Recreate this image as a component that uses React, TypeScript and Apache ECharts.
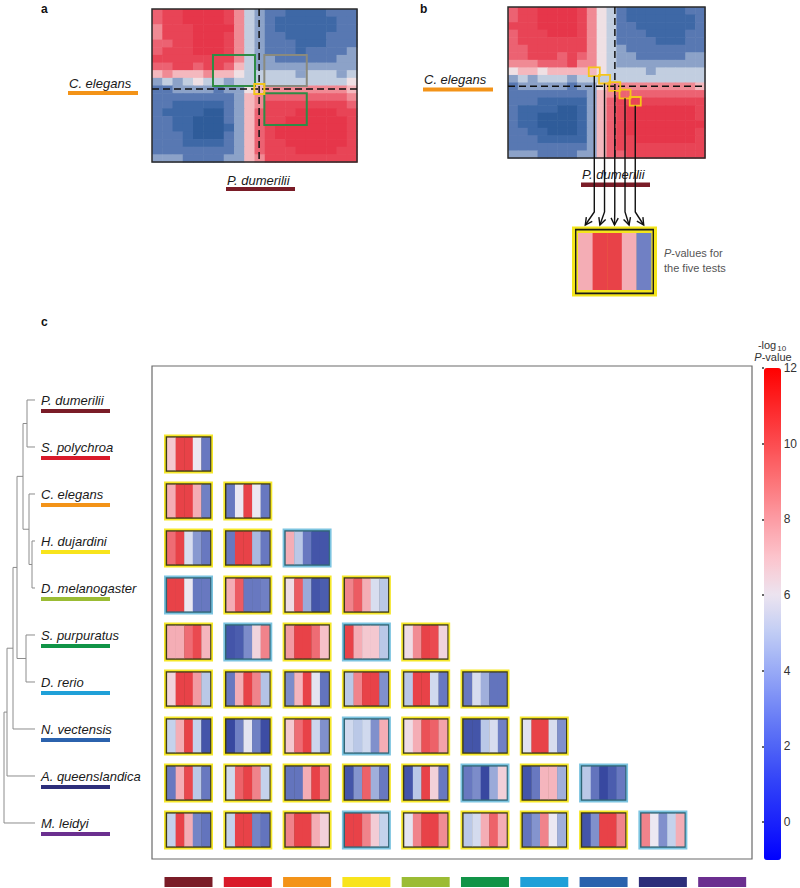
import React, { useEffect, useRef } from 'react';
import * as echarts from 'echarts';

const FONT = "'Liberation Sans', Arial, Helvetica, sans-serif";

// ---------- data ----------
const species = [
  'P. dumerilii', 'S. polychroa', 'C. elegans', 'H. dujardini', 'D. melanogaster',
  'S. purpuratus', 'D. rerio', 'N. vectensis', 'A. queenslandica', 'M. leidyi',
];
const speciesColors = [
  '#7a1c27', '#d91a2a', '#f39318', '#f8e41c', '#9bbc34',
  '#119447', '#1fa0d8', '#2b62ad', '#2d2e7a', '#6b2f8f',
];

// dendrogram merges: [childA, childB, height]; leaves 0..9, merge m -> id 10+m
const linkage = [
  [0, 1, 8], [3, 4, 3], [2, 11, 6], [10, 12, 12], [5, 6, 9],
  [13, 14, 18], [15, 7, 22], [16, 8, 28], [17, 9, 31],
];

// -log10 P-values of the five tests, row species (index r+1) vs column species (index c)
const pairValues = [
  [[6.8, 10.5, 10.5, 6.0, 3.0]],
  [[7.5, 10.5, 10.5, 7.5, 3.2], [3.0, 6.0, 10.5, 6.0, 3.0]],
  [[9.0, 10.5, 5.5, 3.8, 3.0], [3.0, 10.5, 10.5, 4.5, 3.0], [7.5, 4.8, 3.0, 1.5, 1.5]],
  [[10.5, 10.5, 6.0, 3.0, 3.0], [7.5, 9.5, 3.0, 3.0, 3.2], [6.3, 9.5, 4.2, 1.5, 1.8], [8.5, 9.5, 7.5, 5.5, 4.8]],
  [[7.5, 7.5, 9.0, 10.0, 7.3], [1.5, 1.8, 3.5, 6.5, 8.5], [8.0, 10.5, 10.5, 9.0, 7.0], [10.5, 7.5, 6.8, 6.8, 4.8], [6.3, 8.3, 10.5, 10.0, 6.5]],
  [[6.5, 10.5, 10.5, 8.0, 4.8], [3.0, 7.5, 10.5, 8.5, 4.7], [3.5, 7.3, 10.5, 5.8, 2.8], [4.8, 8.5, 10.5, 10.5, 3.6], [4.8, 10.5, 10.5, 5.3, 3.0], [3.0, 5.5, 4.3, 2.8, 2.8]],
  [[5.0, 7.5, 10.5, 5.0, 1.5], [1.0, 3.2, 5.8, 3.2, 1.2], [6.8, 9.0, 10.5, 5.2, 3.6], [5.3, 4.8, 5.3, 3.6, 7.5], [6.3, 7.5, 9.8, 9.3, 7.8], [1.5, 1.5, 4.8, 5.5, 3.2], [5.7, 10.5, 10.5, 5.5, 3.6]],
  [[3.0, 7.5, 10.2, 4.8, 3.0], [5.3, 9.3, 10.5, 8.5, 5.0], [2.8, 2.8, 7.5, 10.5, 8.5], [1.5, 3.7, 9.3, 4.3, 3.0], [1.5, 4.8, 10.5, 6.6, 3.0], [3.0, 3.5, 1.0, 4.2, 6.6], [1.5, 3.0, 7.3, 7.3, 4.3], [4.8, 2.8, 1.0, 1.8, 3.0]],
  [[5.0, 10.5, 7.5, 3.3, 2.8], [5.0, 10.5, 10.5, 3.3, 2.8], [8.5, 10.5, 10.5, 7.5, 6.6], [10.5, 10.5, 8.5, 6.7, 5.0], [5.8, 8.5, 10.5, 10.5, 8.3], [4.8, 5.4, 7.5, 9.3, 7.5], [2.8, 3.7, 8.5, 6.0, 4.3], [1.5, 3.6, 10.5, 10.5, 8.5], [8.5, 6.0, 3.6, 5.0, 7.5]],
];
// frame kind per box: Y = yellow, T = teal
const pairFrames = ['Y', 'YY', 'YYT', 'TYYY', 'YTYTY', 'YYYYYY', 'YYYTYYY', 'YYYYYTYT', 'YYYTYYYYT'];

// pair shown in panel b (C. elegans vs P. dumerilii)
const panelBPair = [1, 0];

// panel a / b similarity matrices, one hex digit per cell (-log10 P)
const heatA = [
  '9aabbbba854332222333', '9aabbbba854322222233', '8aaabbbb854322222233', '8aaabbba854332222333',
  '99aabbba854333222333', '9aaabbba854333233334', 'aaaaaaaa854433333344', '99aa9aa9754444444444',
  '78777877655555455545', '45456554555555555556', '33444434467888888887', '33333333478999999998',
  '33222223478aaaaaaaa9', '32222113479aaabbbbaa', '33221113479aabbbbbba', '33221112479abbbbbbba',
  '33321113479abbbbbbba', '33322223479aabbbbbba', '33333333479aaabbbbaa', '44433334478aaaaaaaaa',
];
const heatB = [
  '9aabbbba865322222233', '9aabbbba865322222223', 'aaabbbba865332222223', '9aaabbba865333222233',
  '9aaaaaaa865333322233', '99aaaaaa865433333333', '99aaa9a9865443333344', '888999a8865444444444',
  '67767777765555455555', '45455545555555555555', '34444434468888888887', '33333333478999999999',
  '33322222479aaaaaaaaa', '32222112479abbbbbbba', '32211112479abbbbbbba', '32211112479abbbbbbbb',
  '33221112479abbbbbbba', '33322222479aabbbbbba', '33333333479aaaaaaaaa', '444333344799aaaaaaaa',
];

const colorbarTicks = [0, 2, 4, 6, 8, 10, 12];
const valueMin = -1;
const valueMax = 12;

const stripePalette = [
  '#2a3690', '#303f98', '#3848a0', '#5062b2', '#6878c0', '#90a0d4', '#c4d2ec',
  '#ece8f2', '#f6c0c8', '#f29aa2', '#ee6c74', '#ea4a50', '#e63a40', '#e2343a',
];
const heatPalette = [
  '#22497f', '#28538f', '#2f5c9a', '#3e68a6', '#5878b2', '#8ca2c8', '#c2cee0',
  '#efe0e4', '#f4b8be', '#f08a94', '#ec6272', '#e84456', '#e6364a', '#e42c40',
];
const colorbarPalette = [
  '#0000ff', '#1a22fb', '#3040f8', '#4f64f6', '#7286f6', '#98aaf6', '#c0ccf4',
  '#ece4f0', '#fcc4cc', '#fc9ca4', '#fc7478', '#fc4c50', '#fd2628', '#ff0000',
];

function parseHeat(rows: string[]) {
  const out: number[][] = [];
  rows.forEach((r, y) => {
    for (let x = 0; x < r.length; x++) out.push([x, y, parseInt(r[x], 16)]);
  });
  return out;
}

export default function App() {
  const ref = useRef<HTMLDivElement>(null);
  useEffect(() => {
    if (!ref.current) return;
    const chart = echarts.init(ref.current, null, { renderer: 'svg' });

    const stripeData: number[][] = [];
    const frameData: number[][] = [];
    pairValues.forEach((row, r) =>
      row.forEach((vals, c) => {
        frameData.push([c, r + 1, pairFrames[r][c] === 'T' ? 1 : 0]);
        vals.forEach((v, t) => stripeData.push([c, r + 1, t, v]));
      })
    );
    const bigData = pairValues[panelBPair[0]][panelBPair[1]].map((v, t) => [t, 0, t, v]);

    // dendrogram segments
    const nodeH: number[] = species.map(() => 0);
    const nodeY: number[] = species.map((_, i) => i);
    const dendroSegs: number[][] = [];
    linkage.forEach(([a, b, h]) => {
      dendroSegs.push([nodeH[a], nodeY[a], h, nodeY[b], nodeH[b]]);
      nodeH.push(h);
      nodeY.push((nodeY[a] + nodeY[b]) / 2);
    });

    const heatRender = (params: any, api: any) => {
      const p = api.coord([api.value(0), api.value(1)]);
      const s = api.size([1, 1]);
      return {
        type: 'rect',
        shape: { x: p[0], y: p[1], width: s[0] + 0.6, height: s[1] + 0.6 },
        style: { fill: api.visual('color') },
      };
    };

    const rectFrom = (api: any, x0: number, y0: number, x1: number, y1: number) => {
      const a = api.coord([x0, y0]);
      const b = api.coord([x1, y1]);
      return { x: a[0], y: a[1], width: b[0] - a[0], height: b[1] - a[1] };
    };
    const lineFrom = (api: any, x0: number, y0: number, x1: number, y1: number) => {
      const a = api.coord([x0, y0]);
      const b = api.coord([x1, y1]);
      return { x1: a[0], y1: a[1], x2: b[0], y2: b[1] };
    };
    const dash = { stroke: '#111', lineWidth: 1.5, lineDash: [7, 4], fill: 'none' };

    const overlayA = (params: any, api: any) => ({
      type: 'group',
      children: [
        { type: 'rect', shape: rectFrom(api, 0, 0, 20, 20), style: { fill: 'none', stroke: '#2a2a2a', lineWidth: 1.5 } },
        { type: 'line', shape: lineFrom(api, 10.45, 0, 10.45, 20), style: dash },
        { type: 'line', shape: lineFrom(api, 0, 10.45, 20, 10.45), style: dash },
        { type: 'rect', shape: rectFrom(api, 5.95, 6, 10.05, 10.05), style: { fill: 'none', stroke: '#2e8c45', lineWidth: 2 } },
        { type: 'rect', shape: rectFrom(api, 10.96, 6, 15.1, 10.05), style: { fill: 'none', stroke: '#8a8a7e', lineWidth: 2 } },
        { type: 'rect', shape: rectFrom(api, 10.96, 11, 15.1, 15.15), style: { fill: 'none', stroke: '#2e8c45', lineWidth: 2 } },
        { type: 'rect', shape: rectFrom(api, 9.98, 9.8, 10.96, 11.1), style: { fill: 'none', stroke: '#f2c41a', lineWidth: 2 } },
      ],
    });

    const overlayB = (params: any, api: any) => {
      const children: any[] = [
        { type: 'rect', shape: rectFrom(api, 0, 0, 20, 20), style: { fill: 'none', stroke: '#2a2a2a', lineWidth: 1.5 } },
        { type: 'line', shape: lineFrom(api, 10.85, 0, 10.85, 20), style: dash },
        { type: 'line', shape: lineFrom(api, 0, 10.5, 20, 10.5), style: dash },
      ];
      for (let k = 0; k < 5; k++) {
        const x0 = 8.2 + 1.04 * k;
        const y0 = 8 + 0.98 * k;
        children.push({ type: 'rect', shape: rectFrom(api, x0, y0, x0 + 1.12, y0 + 1.15), style: { fill: 'none', stroke: '#f5c518', lineWidth: 1.8 } });
      }
      return { type: 'group', children };
    };

    const bigFrame = (params: any, api: any) => {
      const a = api.coord([0, 0]);
      const b = api.coord([5, 1]);
      const box = (dx: number, dy: number, fill: string) => ({
        type: 'rect',
        shape: { x: a[0] - dx, y: a[1] - dy, width: b[0] - a[0] + 2 * dx, height: b[1] - a[1] + 2 * dy },
        style: { fill },
      });
      return {
        type: 'group',
        children: [box(6, 6.6, '#f3e51c'), box(3, 4.3, '#1a1a1a'), box(1.6, 2.6, '#f3e51c')],
      };
    };
    const bigStripes = (params: any, api: any) => {
      const t = api.value(2);
      const a = api.coord([t, 0]);
      const b = api.coord([t + 1, 1]);
      return {
        type: 'rect',
        shape: { x: a[0], y: a[1], width: b[0] - a[0] + 0.4, height: b[1] - a[1] },
        style: { fill: api.visual('color') },
      };
    };

    const BOX_W = 49;
    const BOX_H = 39;
    const frameRender = (params: any, api: any) => {
      const p = api.coord([api.value(0), api.value(1)]);
      const teal = api.value(2) === 1;
      const x = p[0] - BOX_W / 2;
      const y = p[1] - BOX_H / 2;
      return {
        type: 'group',
        children: [
          { type: 'rect', shape: { x, y, width: BOX_W, height: BOX_H }, style: { fill: teal ? '#7cc4e0' : '#f5e72a' } },
          { type: 'rect', shape: { x: x + 1.7, y: y + 1.7, width: BOX_W - 3.4, height: BOX_H - 3.4 }, style: { fill: teal ? '#2f6474' : '#3c3a16' } },
        ],
      };
    };
    const stripeRender = (params: any, api: any) => {
      const p = api.coord([api.value(0), api.value(1)]);
      const t = api.value(2);
      const inset = 3.1;
      const sw = (BOX_W - 2 * inset) / 5;
      return {
        type: 'rect',
        shape: { x: p[0] - BOX_W / 2 + inset + t * sw, y: p[1] - BOX_H / 2 + inset, width: sw + 0.3, height: BOX_H - 2 * inset },
        style: { fill: api.visual('color') },
      };
    };
    const bottomBars = (params: any, api: any) => {
      const k = api.value(0);
      const p = api.coord([k, 10]);
      return {
        type: 'rect',
        shape: { x: p[0] - 24, y: p[1], width: 48, height: 10 },
        style: { fill: speciesColors[k] },
      };
    };
    const dendroRender = (params: any, api: any) => {
      const pts = [
        api.coord([api.value(0), api.value(1)]),
        api.coord([api.value(2), api.value(1)]),
        api.coord([api.value(2), api.value(3)]),
        api.coord([api.value(4), api.value(3)]),
      ];
      return { type: 'polyline', shape: { points: pts }, style: { stroke: '#8c8c8c', lineWidth: 1, fill: 'none' } };
    };
    const leafLabels = (params: any, api: any) => {
      const k = api.value(0);
      const p = api.coord([-6, k]);
      return {
        type: 'group',
        children: [
          { type: 'text', style: { text: species[k], x: p[0], y: p[1] + 1, fill: '#1a1a1a', font: `italic 13px ${FONT}`, align: 'left', verticalAlign: 'middle' } },
          { type: 'rect', shape: { x: p[0], y: p[1] + 9, width: 69, height: 4 }, style: { fill: speciesColors[k] } },
        ],
      };
    };

    const hidden = { show: false };
    const option: any = {
      animation: false,
      backgroundColor: '#ffffff',
      grid: [
        { left: 152, top: 9, width: 205, height: 153 },
        { left: 508, top: 7, width: 197, height: 151 },
        { left: 578, top: 233, width: 73, height: 57 },
        { left: 152, top: 366, width: 600, height: 493, show: true, borderColor: '#6a6a6a', borderWidth: 1.2 },
        { left: 4, top: 366, width: 31, height: 493 },
        { left: 764, top: 368, width: 17, height: 492 },
      ],
      xAxis: [
        { gridIndex: 0, type: 'value', min: 0, max: 20, ...hidden },
        { gridIndex: 1, type: 'value', min: 0, max: 20, ...hidden },
        { gridIndex: 2, type: 'value', min: 0, max: 5, ...hidden },
        { gridIndex: 3, type: 'value', min: -0.6155, max: 9.503, ...hidden },
        { gridIndex: 4, type: 'value', min: 0, max: 31, inverse: true, ...hidden },
        { gridIndex: 5, type: 'value', min: 0, max: 1, ...hidden },
      ],
      yAxis: [
        { gridIndex: 0, type: 'value', min: 0, max: 20, inverse: true, ...hidden },
        { gridIndex: 1, type: 'value', min: 0, max: 20, inverse: true, ...hidden },
        { gridIndex: 2, type: 'value', min: 0, max: 1, inverse: true, ...hidden },
        { gridIndex: 3, type: 'value', min: -0.872, max: 9.617, inverse: true, ...hidden },
        { gridIndex: 4, type: 'value', min: -0.7234, max: 9.766, inverse: true, ...hidden },
        {
          gridIndex: 5, type: 'value', min: valueMin, max: valueMax, position: 'right',
          axisLine: { show: false }, splitLine: { show: false },
          axisTick: { show: true, inside: true, length: 2, lineStyle: { color: '#333', width: 1.5 }, customValues: colorbarTicks },
          axisLabel: { customValues: colorbarTicks, color: '#333', fontSize: 12, margin: 4, fontFamily: FONT },
        },
      ],
      visualMap: [
        { type: 'continuous', show: false, min: valueMin, max: valueMax, dimension: 2, seriesIndex: [0, 2], inRange: { color: heatPalette } },
        { type: 'continuous', show: false, min: valueMin, max: valueMax, dimension: 3, seriesIndex: [5, 7], inRange: { color: stripePalette } },
        {
          type: 'continuous', show: true, min: valueMin, max: valueMax, seriesIndex: [11], calculable: false,
          left: 764, top: 368, itemWidth: 17, itemHeight: 492, padding: 0, inRange: { color: colorbarPalette },
        },
      ],
      series: [
        { type: 'custom', xAxisIndex: 0, yAxisIndex: 0, data: parseHeat(heatA), renderItem: heatRender, silent: true },
        { type: 'custom', xAxisIndex: 0, yAxisIndex: 0, data: [[0, 0]], renderItem: overlayA, silent: true, z: 3 },
        { type: 'custom', xAxisIndex: 1, yAxisIndex: 1, data: parseHeat(heatB), renderItem: heatRender, silent: true },
        { type: 'custom', xAxisIndex: 1, yAxisIndex: 1, data: [[0, 0]], renderItem: overlayB, silent: true, z: 3 },
        { type: 'custom', xAxisIndex: 2, yAxisIndex: 2, data: [[0, 0]], renderItem: bigFrame, silent: true },
        { type: 'custom', xAxisIndex: 2, yAxisIndex: 2, data: bigData, renderItem: bigStripes, silent: true, z: 3 },
        { type: 'custom', xAxisIndex: 3, yAxisIndex: 3, data: frameData, renderItem: frameRender, silent: true },
        { type: 'custom', xAxisIndex: 3, yAxisIndex: 3, data: stripeData, renderItem: stripeRender, silent: true, z: 3 },
        { type: 'custom', xAxisIndex: 3, yAxisIndex: 3, data: species.map((_, k) => [k, 10]), renderItem: bottomBars, silent: true },
        { type: 'custom', xAxisIndex: 4, yAxisIndex: 4, data: dendroSegs, renderItem: dendroRender, silent: true },
        { type: 'custom', xAxisIndex: 4, yAxisIndex: 4, data: species.map((_, k) => [k, k]), renderItem: leafLabels, silent: true },
        { type: 'custom', xAxisIndex: 5, yAxisIndex: 5, data: [], renderItem: () => null, silent: true },
      ],
    };
    chart.setOption(option);

    // ---------- annotations (texts, arrows) ----------
    const txt = (text: string, x: number, y: number, font: string, fill = '#1a1a1a', align = 'left', rich?: any) => ({
      type: 'text', x, y, silent: true, z: 10,
      style: { text, font, fill, align, textAlign: align, verticalAlign: 'middle', textVerticalAlign: 'middle', rich },
    });
    const bar = (x: number, y: number, w: number, h: number, fill: string) => ({
      type: 'rect', silent: true, z: 10, shape: { x, y, width: w, height: h }, style: { fill },
    });
    const g: any[] = [
      txt('a', 41, 9, `bold 12px ${FONT}`, '#111'),
      txt('b', 420, 9, `bold 12px ${FONT}`, '#111'),
      txt('c', 41, 322, `bold 12px ${FONT}`, '#111'),
      txt(species[2], 69, 83, `italic 13px ${FONT}`),
      bar(68, 91, 70, 4, speciesColors[2]),
      txt(species[0], 227, 180, `italic 13px ${FONT}`),
      bar(226, 187, 69, 4, speciesColors[0]),
      txt(species[2], 424, 79, `italic 13px ${FONT}`),
      bar(423, 87.5, 70, 4, speciesColors[2]),
      txt(species[0], 582, 174, `italic 13px ${FONT}`),
      bar(581, 182.5, 69, 4.5, speciesColors[0]),
      txt('{i|P}{n|-values for}', 664, 253, `11px ${FONT}`, '#555', 'left', {
        i: { fontStyle: 'italic', fontSize: 11, fontFamily: FONT, color: '#555' },
        n: { fontSize: 11, fontFamily: FONT, color: '#555' },
      }),
      txt('the five tests', 664, 268, `11px ${FONT}`, '#555'),
      txt('{n|-log}{s|10}', 772, 345, `11px ${FONT}`, '#333', 'center', {
        n: { fontSize: 11, fontFamily: FONT, color: '#333' },
        s: { fontSize: 8, fontFamily: FONT, color: '#333', padding: [6, 0, 0, 1] },
      }),
      txt('{i|P}{n|-value}', 773, 357, `11px ${FONT}`, '#333', 'center', {
        i: { fontStyle: 'italic', fontSize: 11, fontFamily: FONT, color: '#333' },
        n: { fontSize: 11, fontFamily: FONT, color: '#333' },
      }),
    ];

    for (let k = 0; k < 5; k++) {
      const s = chart.convertToPixel({ gridIndex: 1 } as any, [8.2 + 1.04 * k + 0.56, 8 + 0.98 * k + 1.15]) as number[];
      const t = chart.convertToPixel({ gridIndex: 2 } as any, [k + 0.5, 0]) as number[];
      if (!s || !t) continue;
      const tip = [t[0], t[1] - 8];
      const bend = [s[0], tip[1] - 13];
      g.push({ type: 'polyline', silent: true, z: 11, shape: { points: [s, bend, tip] }, style: { stroke: '#111', lineWidth: 1.4, fill: 'none' } });
      const dx = tip[0] - bend[0];
      const dy = tip[1] - bend[1];
      const len = Math.sqrt(dx * dx + dy * dy) || 1;
      const ux = dx / len, uy = dy / len;
      const hl = 7, hw = 3.6;
      const l = [tip[0] - ux * hl - uy * hw, tip[1] - uy * hl + ux * hw];
      const r = [tip[0] - ux * hl + uy * hw, tip[1] - uy * hl - ux * hw];
      g.push({ type: 'polyline', silent: true, z: 11, shape: { points: [l, tip, r] }, style: { stroke: '#111', lineWidth: 1.4, fill: 'none' } });
    }
    chart.setOption({ graphic: g });

    return () => chart.dispose();
  }, []);
  return <div ref={ref} style={{ position: 'fixed', left: 0, top: 0, width: 800, height: 888, background: '#fff' }} />;
}
